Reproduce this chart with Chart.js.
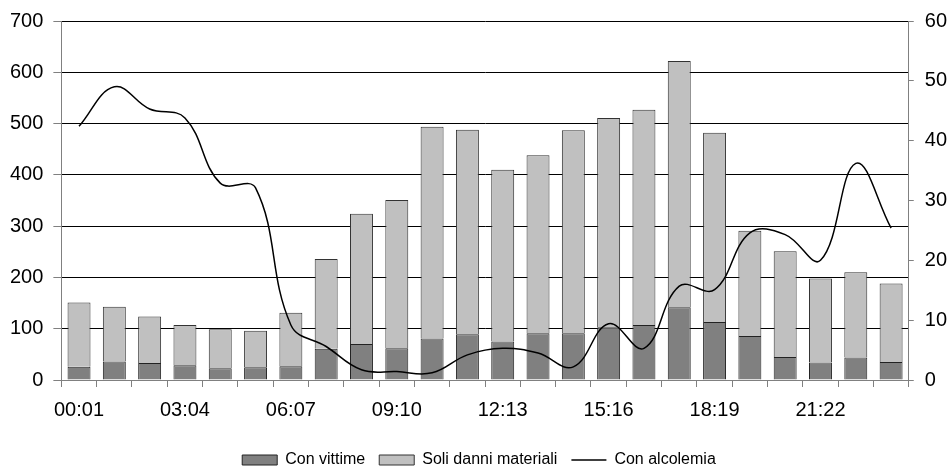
<!DOCTYPE html>
<html>
<head>
<meta charset="utf-8">
<script src="https://cdn.jsdelivr.net/npm/chart.js@4"></script>
<style>
  html, body { margin:0; padding:0; background:#fff; }
  #wrap { width:952px; height:470px; position:relative; }
</style>
</head>
<body>
<div id="wrap"><canvas id="chart"></canvas></div>
<script>
// fasce orarie (una barra per ora)
const ORE = ["00:01","01:02","02:03","03:04","04:05","05:06","06:07","07:08","08:09","09:10","10:11","11:12",
             "12:13","13:14","14:15","15:16","16:17","17:18","18:19","19:20","20:21","21:22","22:23","23:24"];

// incidenti con vittime (parte scura)
const CON_VITTIME = [26,36,33,29,23,25,27,61,70,62,81,89,75,91,91,103,107,142,113,86,45,34,44,35];
// totali, la parte chiara è la differenza
const TOTALI      = [151,143,124,107,99,96,131,236,324,351,494,488,410,438,487,511,527,622,482,291,251,198,210,188];
const SOLI_DANNI  = TOTALI.map((t, i) => t - CON_VITTIME[i]);
// incidenti con alcolemia (asse destro)
const CON_ALCOLEMIA = [42.4,49,45.3,43.8,32.9,32.1,9.2,5.6,1.7,1.4,1.2,4.2,5.3,4.5,2.2,9.4,5.3,15.7,15.1,24.6,24.3,20,36.2,25.4];

const TICK_SX = [0,100,200,300,400,500,600,700];
const TICK_DX = [0,10,20,30,40,50,60];

Chart.defaults.font.family = '"Liberation Sans", Arial, sans-serif';
Chart.defaults.color = "#000";

const GRIGIO = "#808080";

new Chart(document.getElementById("chart"), {
  data: {
    labels: ORE,
    datasets: [
      { type:"line", label:"Con alcolemia", data:CON_ALCOLEMIA, yAxisID:"y1",
        borderColor:"#000", borderWidth:1.5, tension:0.4, pointRadius:0,
        fill:false, pointStyle:"line", order:0 },
      { type:"bar", label:"Con vittime", data:CON_VITTIME, yAxisID:"y",
        backgroundColor:"#808080", borderColor:"#222", borderWidth:1,
        barPercentage:0.65, categoryPercentage:1, pointStyle:"rect", order:1 },
      { type:"bar", label:"Soli danni materiali", data:SOLI_DANNI, yAxisID:"y",
        backgroundColor:"#c0c0c0", borderColor:"#333", borderWidth:1,
        barPercentage:0.65, categoryPercentage:1, pointStyle:"rect", order:2 }
    ]
  },
  options: {
    responsive:true, maintainAspectRatio:false, animation:false,
    layout:{ padding:{ left:0, right:-6, top:-4, bottom:-8 } },
    plugins:{
      tooltip:{ enabled:false },
      legend:{
        position:"bottom",
        labels:{
          usePointStyle:true, pointStyleWidth:35, boxHeight:10,
          padding:14, font:{ size:16 },
          sort:(a, b) => [1,2,0].indexOf(a.datasetIndex) - [1,2,0].indexOf(b.datasetIndex)
        }
      }
    },
    scales:{
      x:{
        stacked:true,
        border:{ color:GRIGIO },
        grid:{ display:true, drawOnChartArea:false, offset:true, color:GRIGIO, tickLength:7 },
        ticks:{ autoSkip:false, maxRotation:0, font:{ size:20 }, padding:11,
                callback:(v, i) => i % 3 === 0 ? ORE[i] : "" },
        afterFit: s => { s.height += 5; }   // più spazio fra etichette e legenda
      },
      y:{
        stacked:true, position:"left", min:0, max:700,
        afterBuildTicks: s => { s.ticks = TICK_SX.map(v => ({ value:v })); },
        border:{ color:GRIGIO },
        grid:{ color:"#000", tickColor:GRIGIO, tickLength:8, lineWidth:1 },
        ticks:{ font:{ size:20, lineHeight:1 }, padding:10 }
      },
      y1:{
        stacked:false, position:"right", min:0, max:60,
        afterBuildTicks: s => { s.ticks = TICK_DX.map(v => ({ value:v })); },
        border:{ color:GRIGIO },
        grid:{ drawOnChartArea:false, color:GRIGIO, tickLength:5 },
        ticks:{ font:{ size:20, lineHeight:1 }, padding:11 }
      }
    }
  }
});
</script>
</body>
</html>
